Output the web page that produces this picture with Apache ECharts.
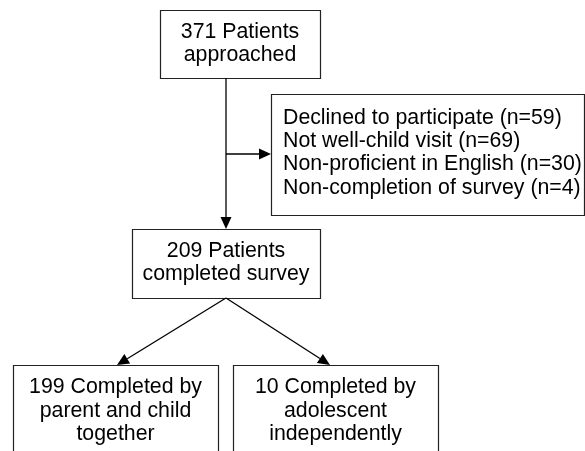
<!DOCTYPE html>
<html>
<head>
<meta charset="utf-8">
<script src="https://cdn.jsdelivr.net/npm/echarts@6/dist/echarts.min.js"></script>
<style>html,body{margin:0;padding:0;background:#fff}#c{width:585px;height:451px}</style>
</head>
<body>
<div id="c"></div>
<script>
// ---- data ----
const totalApproached = 371;
const totalCompleted = 209;
const exclusionReasons = ["Declined to participate", "Not well-child visit", "Non-proficient in English", "Non-completion of survey"];
const exclusionCounts = [59, 69, 30, 4];
const byParentChild = 199;
const byAdolescent = 10;

// ---- layout (axis units, 1 unit = 1 px) ----
const boxes = [
  { rect: [160, 10, 320, 78], text: `${totalApproached} Patients\napproached`, align: 'center', lh: 23.3, pad: 22 },
  { rect: [271, 94, 584, 215], text: exclusionReasons.map((r, i) => `${r} (n=${exclusionCounts[i]})`).join('\n'), align: 'left', lh: 23.3, pad: 24, tx: 283 },
  { rect: [132, 229, 320, 298], text: `${totalCompleted} Patients\ncompleted survey`, align: 'center', lh: 23.3, pad: 22 },
  { rect: [13, 365, 218, 470], text: `${byParentChild} Completed by\nparent and child\ntogether`, align: 'center', lh: 23.3, pad: 22.5 },
  { rect: [233, 365, 438, 470], text: `${byAdolescent} Completed by\nadolescent\nindependently`, align: 'center', lh: 23.3, pad: 22.5 }
];
const arrows = [
  [226, 78, 226, 229],
  [226, 154, 271, 154],
  [226, 298, 117, 365],
  [226, 298, 330, 365]
];

const FONT = '"Liberation Sans", Arial, sans-serif';
const FS = 21.3;

const chart = echarts.init(document.getElementById('c'), null, { renderer: 'canvas' });
chart.setOption({
  animation: false,
  grid: { left: 0, right: 0, top: 0, bottom: 0 },
  xAxis: { type: 'value', min: 0, max: 585, show: false },
  yAxis: { type: 'value', min: 0, max: 451, inverse: true, show: false },
  series: [
    {
      type: 'custom',
      coordinateSystem: 'cartesian2d',
      clip: false,
      data: boxes.map((b, i) => [b.rect[0], b.rect[1], b.rect[2], b.rect[3], i]),
      renderItem: function (params, api) {
        const i = api.value(4);
        const b = boxes[i];
        const p0 = api.coord([api.value(0), api.value(1)]);
        const p1 = api.coord([api.value(2), api.value(3)]);
        const cx = b.align === 'center' ? (p0[0] + p1[0]) / 2 : api.coord([b.tx, 0])[0];
        return {
          type: 'group',
          children: [
            {
              type: 'rect',
              shape: { x: Math.round(p0[0]) + 0.5, y: Math.round(p0[1]) + 0.5, width: Math.round(p1[0] - p0[0]), height: Math.round(p1[1] - p0[1]) },
              style: { fill: '#fff', stroke: '#222', lineWidth: 1.2 }
            },
            {
              type: 'text',
              style: {
                text: b.text,
                x: cx,
                y: p0[1] + b.pad - b.lh / 2,
                align: b.align,
                verticalAlign: 'top',
                fontFamily: FONT,
                fontSize: FS,
                lineHeight: b.lh,
                fill: '#000'
              }
            }
          ]
        };
      }
    },
    {
      type: 'custom',
      coordinateSystem: 'cartesian2d',
      clip: false,
      data: arrows,
      renderItem: function (params, api) {
        const a = api.coord([api.value(0), api.value(1)]);
        const b = api.coord([api.value(2), api.value(3)]);
        const dx = b[0] - a[0], dy = b[1] - a[1];
        const len = Math.sqrt(dx * dx + dy * dy);
        const ux = dx / len, uy = dy / len;
        const L = 12, W = 5.5;
        const bx = b[0] - ux * L, by = b[1] - uy * L;
        return {
          type: 'group',
          children: [
            {
              type: 'line',
              shape: { x1: a[0], y1: a[1], x2: bx, y2: by },
              style: { stroke: '#000', lineWidth: 1.3 }
            },
            {
              type: 'polygon',
              shape: { points: [[b[0], b[1]], [bx - uy * W, by + ux * W], [bx + uy * W, by - ux * W]] },
              style: { fill: '#000' }
            }
          ]
        };
      }
    }
  ]
});
</script>
</body>
</html>
